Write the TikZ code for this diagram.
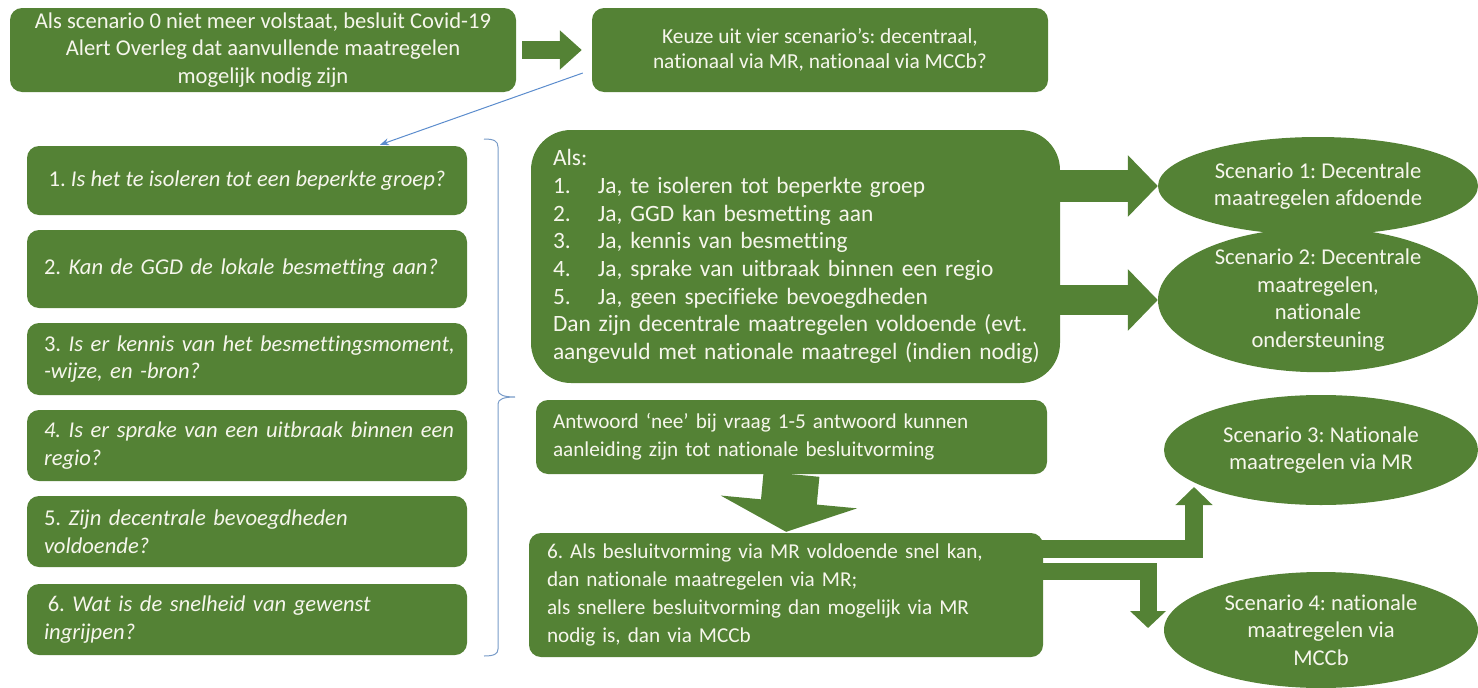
\documentclass[tikz,border=0pt]{standalone}
\usepackage{fontspec}
\setmainfont{Carlito}[Ligatures=NoCommon]
\usetikzlibrary{shapes.geometric,arrows.meta,calc}
\definecolor{gr}{RGB}{84,130,53}
\definecolor{bl}{RGB}{91,140,205}
\definecolor{br}{RGB}{120,155,200}
\definecolor{tx}{RGB}{246,246,236}
\newcommand{\fA}{\fontsize{22.6}{27.5}\selectfont}
\newcommand{\fB}{\fontsize{21.2}{28.2}\selectfont}
\newcommand{\fC}{\fontsize{23.4}{27.7}\selectfont}
\newcommand{\itm}[1]{\makebox[45pt][l]{#1}}
\begin{document}
\frenchspacing
\begin{tikzpicture}[x=1pt,y=-1pt,
  every node/.style={font=\fA, text=tx},
  gbox/.style={fill=gr, rounded corners=12pt, inner sep=0pt},
  gell/.style={fill=gr, ellipse, inner sep=0pt},
  blk/.style={gr, line join=miter},
]
\useasboundingbox (0,0) rectangle (1478,688);
% top boxes
\node[gbox, minimum width=506, minimum height=84, align=center] (tl) at (263,50)
  {Als scenario 0 niet meer volstaat, besluit Covid-19\\Alert Overleg dat aanvullende maatregelen\\mogelijk nodig zijn};
\node[gbox, minimum width=456, minimum height=84, align=center, font=\fontsize{21.4}{25}\selectfont] (tr) at (820,50)
  {Keuze uit vier scenario’s: decentraal,\\nationaal via MR, nationaal via MCCb?};
\draw[blk, line width=18pt, -{Triangle[width=38pt,length=22pt]}, shorten <=6pt, shorten >=10pt] (tl.east) -- (tr.west);
\coordinate (bs) at ($(tr.west)+(-9,23)$);
% left question boxes
\node[gbox, minimum width=440, minimum height=69, align=center] (q1) at (247,180.5)
  {1. \textit{Is het te isoleren tot een beperkte groep?}};
\node[gbox, minimum width=440, minimum height=78, text width=406, align=left] (q2) at (247,269)
  {2. \textit{Kan de GGD de lokale besmetting aan?}};
\node[gbox, minimum width=440, minimum height=72, text width=406, align=left] (q3) at (247,359)
  {\mbox{3. \textit{Is er kennis van het besmettingsmoment,}}\\\textit{-wijze, en -bron?}};
\node[gbox, minimum width=440, minimum height=71, text width=406, align=left] (q4) at (247,445.5)
  {\mbox{\textit{4. Is er sprake van een uitbraak binnen een}}\\\textit{regio?}};
\node[gbox, minimum width=440, minimum height=71, text width=406, align=left] (q5) at (247,531.5)
  {5. \textit{Zijn decentrale bevoegdheden\\voldoende?}};
\node[gbox, minimum width=440, minimum height=71, text width=406, align=left] (q6) at (247,619.5)
  {\,6. \textit{Wat is de snelheid van gewenst\\ingrijpen?}};
\draw[bl, line width=1pt, -{Stealth[length=9pt,width=7pt]}] (bs) -- ($(q1.north)+(133,-1)$);
% brace
\draw[br, line width=1pt] (484,139) .. controls (494,139) and (498,141) .. (498,147)
  -- (498,390) .. controls (498,395) and (504,397) .. (515,397)
  .. controls (504,397) and (498,399) .. (498,404)
  -- (498,649) .. controls (498,654) and (494,656) .. (484,656);
% middle boxes
\node[gbox, rounded corners=40pt, minimum width=529, minimum height=253, text width=485, align=left, font=\fC] (als) at (795.5,256.5)
  {Als:\\
   \itm{1.}Ja, te isoleren tot beperkte groep\\
   \itm{2.}Ja, GGD kan besmetting aan\\
   \itm{3.}Ja, kennis van besmetting\\
   \itm{4.}\mbox{Ja, sprake van uitbraak binnen een regio}\\
   \itm{5.}Ja, geen specifieke bevoegdheden\\
   \mbox{Dan zijn decentrale maatregelen voldoende (evt.}\\
   \mbox{aangevuld met nationale maatregel (indien nodig)}};
\node[gbox, minimum width=511, minimum height=74, text width=477, align=left, font=\fB] (nee) at (791.5,437)
  {Antwoord ‘nee’ bij vraag 1-5 antwoord kunnen\\aanleiding zijn tot nationale besluitvorming};
\node[gbox, minimum width=514, minimum height=124, text width=478, align=left, font=\fB] (b6) at (786,595)
  {6. Als besluitvorming via MR voldoende snel kan,\\dan nationale maatregelen via MR;\\als snellere besluitvorming dan mogelijk via MR\\nodig is, dan via MCCb};
% ellipses
\node[gell, minimum width=320, minimum height=98, align=center] (e1) at (1318,186)
  {Scenario 1: Decentrale\\maatregelen afdoende};
\node[gell, minimum width=320, minimum height=120, align=center] (e2) at (1318,300)
  {Scenario 2: Decentrale\\maatregelen,\\nationale\\ondersteuning};
\node[gell, minimum width=314, minimum height=110, align=center] (e3) at (1321,450)
  {Scenario 3: Nationale\\maatregelen via MR};
\node[gell, minimum width=314, minimum height=116, align=center] (e4) at (1321,630)
  {Scenario 4: nationale\\maatregelen via\\MCCb};
% block arrows
\draw[blk, line width=32pt, -{Triangle[width=60pt,length=30pt]}, shorten <=-2pt] (als.east |- e1.west) -- (e1.west);
\draw[blk, line width=30pt, -{Triangle[width=60pt,length=30pt]}, shorten <=-2pt] (als.east |- e2.west) -- (e2.west);
\draw[blk, line width=56pt, -{Triangle[width=136pt,length=30pt]}, shorten >=1pt] (nee.south) -- (b6.north);
\coordinate (t3) at (1194,487);
\coordinate (t4) at (1148,628);
\draw[blk, line width=18pt, -{Triangle[width=36pt,length=18pt]}, shorten <=-3pt] (b6.east |- 0,549) -| (t3);
\draw[blk, line width=17pt, -{Triangle[width=35pt,length=17pt]}, shorten <=-3pt] (b6.east |- 0,571.5) -| (t4);
\end{tikzpicture}
\end{document}
